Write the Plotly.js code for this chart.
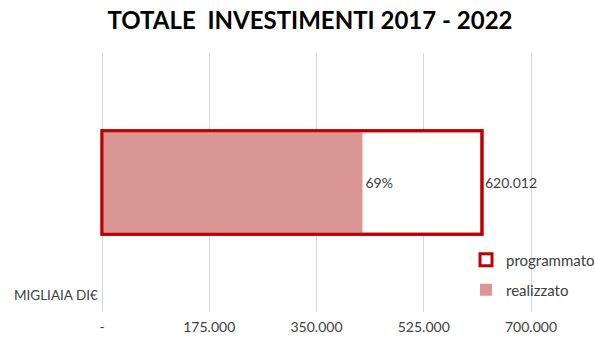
<!DOCTYPE html>
<html>
<head>
<meta charset="utf-8">
<script src="https://cdn.plot.ly/plotly-3.0.1.min.js"></script>
<style>html,body{margin:0;padding:0;background:#fff;}#chart{width:595px;height:340px;}</style>
</head>
<body>
<div id="chart"></div>
<script>
// Data
const categories = ['Totale'];
const programmato = [620012];
const realizzato = [425000];
const programmatoLabels = ['620.012'];
const realizzatoLabels = ['69%'];
const tickValues = [0, 175000, 350000, 525000, 700000];
const tickLabels = ['-', '175.000', '350.000', '525.000', '700.000'];

const FONT = 'Lato, "Noto Sans", sans-serif';
const RED = '#C00000';
const PINK = '#D99694';
const TXT = '#404040';

const traces = [
  { // white base of programmato (legend entry)
    type: 'bar', orientation: 'h', name: 'programmato',
    y: categories, x: programmato, width: 0.4,
    marker: { color: '#FFFFFF', line: { color: RED, width: 3 } },
    text: programmatoLabels, textposition: 'outside', cliponaxis: false,
    textfont: { family: FONT, size: 14, color: TXT },
    hoverinfo: 'skip', legend: 'legend'
  },
  {
    type: 'bar', orientation: 'h', name: 'realizzato',
    y: categories, x: realizzato, width: 0.4,
    marker: { color: PINK, line: { width: 0 } },
    text: realizzatoLabels, textposition: 'outside', cliponaxis: false,
    textfont: { family: FONT, size: 14, color: TXT },
    hoverinfo: 'skip', legend: 'legend2'
  },
  { // red outline of programmato drawn on top
    type: 'bar', orientation: 'h', name: 'programmato',
    y: categories, x: programmato, width: 0.4,
    marker: { color: 'rgba(0,0,0,0)', line: { color: RED, width: 3 } },
    showlegend: false, hoverinfo: 'skip'
  }
];

const PW = 437;
const layout = {
  width: 595, height: 340,
  margin: { l: 98, r: 60, t: 53, b: 28, autoexpand: false },
  paper_bgcolor: '#FFFFFF', plot_bgcolor: '#FFFFFF',
  barmode: 'overlay',
  font: { family: FONT, color: TXT, size: 13 },
  title: {
    text: '<b>TOTALE  INVESTIMENTI 2017 - 2022</b>',
    font: { family: FONT, size: 24, color: '#000000' },
    x: 0.521, xref: 'container', xanchor: 'center',
    y: 0.94, yref: 'container', yanchor: 'middle'
  },
  xaxis: {
    range: [-6527, 706527], tickvals: tickValues, ticktext: tickLabels,
    showgrid: true, gridcolor: '#D9D9D9', gridwidth: 1,
    zeroline: false, showline: false, ticks: '', ticklabelstandoff: 5,
    tickfont: { family: FONT, size: 14, color: TXT }, fixedrange: true
  },
  yaxis: {
    range: [-0.5, 0.5], visible: false, fixedrange: true
  },
  showlegend: true,
  legend: {
    x: (466 - 98) / PW, xanchor: 'left', y: (312 - 260) / 259, yanchor: 'middle',
    font: { family: FONT, size: 15, color: TXT }, bgcolor: 'rgba(0,0,0,0)',
    itemwidth: 30
  },
  legend2: {
    x: (466 - 98) / PW, xanchor: 'left', y: (312 - 290) / 259, yanchor: 'middle',
    font: { family: FONT, size: 15, color: TXT }, bgcolor: 'rgba(0,0,0,0)',
    itemwidth: 30
  },
  annotations: [{
    text: 'MIGLIAIA DI€', xref: 'paper', yref: 'paper',
    x: (12 - 98) / PW, xanchor: 'left', y: (312 - 295) / 259, yanchor: 'middle',
    showarrow: false, font: { family: FONT, size: 13.5, color: TXT }
  }]
};

Plotly.newPlot('chart', traces, layout, { displayModeBar: false, staticPlot: true });
</script>
</body>
</html>
